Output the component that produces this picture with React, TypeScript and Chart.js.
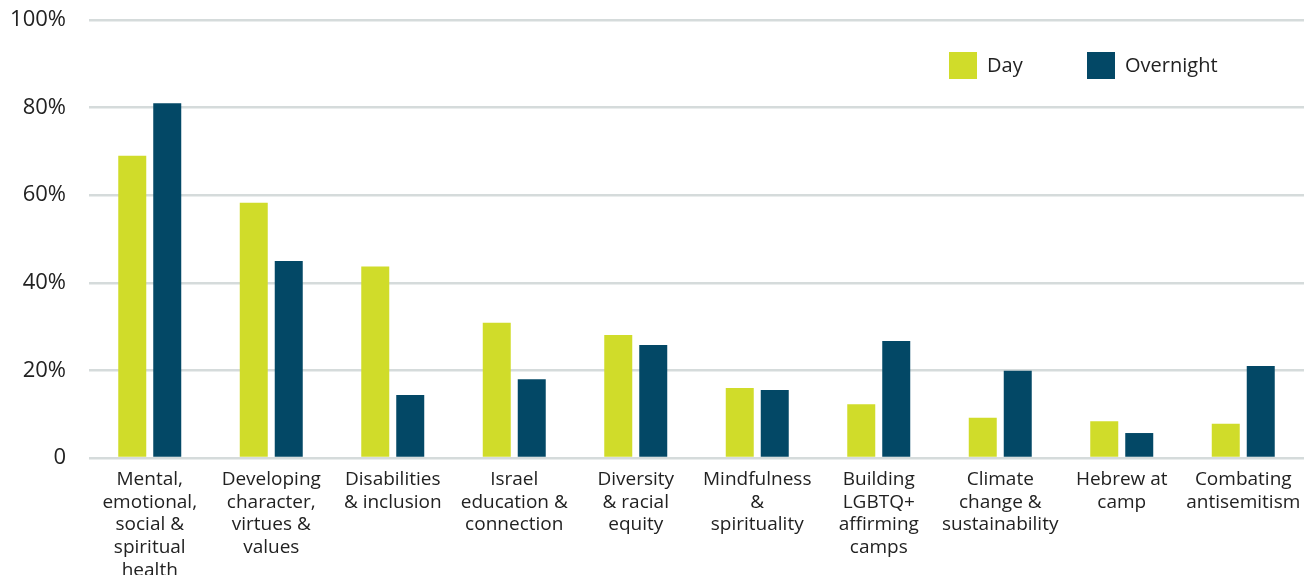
import React, { useEffect, useRef } from "react";
import { Chart, registerables } from "chart.js";

Chart.register(...registerables);

const categories: string[][] = [
  ["Mental,", "emotional,", "social &", "spiritual", "health"],
  ["Developing", "character,", "virtues &", "values"],
  ["Disabilities", "& inclusion"],
  ["Israel", "education &", "connection"],
  ["Diversity", "& racial", "equity"],
  ["Mindfulness", "&", "spirituality"],
  ["Building", "LGBTQ+", "affirming", "camps"],
  ["Climate", "change &", "sustainability"],
  ["Hebrew at", "camp"],
  ["Combating", "antisemitism"],
];

const dayValues = [69, 58.3, 43.7, 30.9, 28.1, 16, 12.3, 9.2, 8.4, 7.8];
const overnightValues = [81, 45, 14.4, 18, 25.8, 15.5, 26.7, 19.9, 5.7, 21];
const yTickLabels: Record<number, string> = { 0: "0", 20: "20%", 40: "40%", 60: "60%", 80: "80%", 100: "100%" };

const DAY_COLOR = "#d0dc2a";
const NIGHT_COLOR = "#034866";
const FONT = "'Open Sans', sans-serif";

const legendPlugin = {
  id: "customLegend",
  afterDraw(chart: any) {
    const ctx = chart.ctx;
    const items = [
      { label: "Day", color: DAY_COLOR, x: 949 },
      { label: "Overnight", color: NIGHT_COLOR, x: 1087 },
    ];
    ctx.save();
    ctx.font = `20px ${FONT}`;
    ctx.textBaseline = "middle";
    ctx.textAlign = "left";
    for (const it of items) {
      ctx.fillStyle = it.color;
      ctx.fillRect(it.x, 52, 28, 27);
      ctx.fillStyle = "#222222";
      ctx.fillText(it.label, it.x + 38, 66);
    }
    ctx.restore();
  },
};

export default function App() {
  const ref = useRef<HTMLCanvasElement | null>(null);
  useEffect(() => {
    document.body.style.margin = "0";
    if (!ref.current) return;
    const chart = new Chart(ref.current, {
      type: "bar",
      data: {
        labels: categories,
        datasets: [
          { label: "Day", data: dayValues, backgroundColor: DAY_COLOR, barPercentage: 0.8, categoryPercentage: 0.576 },
          { label: "Overnight", data: overnightValues, backgroundColor: NIGHT_COLOR, barPercentage: 0.8, categoryPercentage: 0.576 },
        ],
      },
      options: {
        animation: false,
        responsive: false,
        maintainAspectRatio: false,
        layout: { padding: { top: 20, right: 8, left: 0, bottom: 0 } },
        plugins: { legend: { display: false }, tooltip: { enabled: false } },
        scales: {
          x: {
            grid: { display: false },
            border: { display: false },
            ticks: {
              color: "#222222",
              font: { family: FONT, size: 19, lineHeight: 1.2 },
              padding: 2,
              maxRotation: 0,
              autoSkip: false,
            },
            afterFit(scale: any) {
              scale.height = 117;
              scale.paddingLeft = 0;
              scale.paddingRight = 0;
            },
          },
          y: {
            min: 0,
            max: 100,
            grid: { color: "#d5dbdb", lineWidth: 2.5, drawTicks: false },
            border: { display: false },
            ticks: {
              stepSize: 20,
              color: "#222222",
              font: { family: FONT, size: 22 },
              padding: 23,
              callback: (v: any) => yTickLabels[v as number] ?? "",
            },
            afterFit(scale: any) {
              scale.width = 89;
              scale.paddingTop = 0;
              scale.paddingBottom = 0;
            },
          },
        },
      },
      plugins: [legendPlugin],
    });
    return () => chart.destroy();
  }, []);
  return <canvas ref={ref} width={1312} height={575} style={{ display: "block" }} />;
}
